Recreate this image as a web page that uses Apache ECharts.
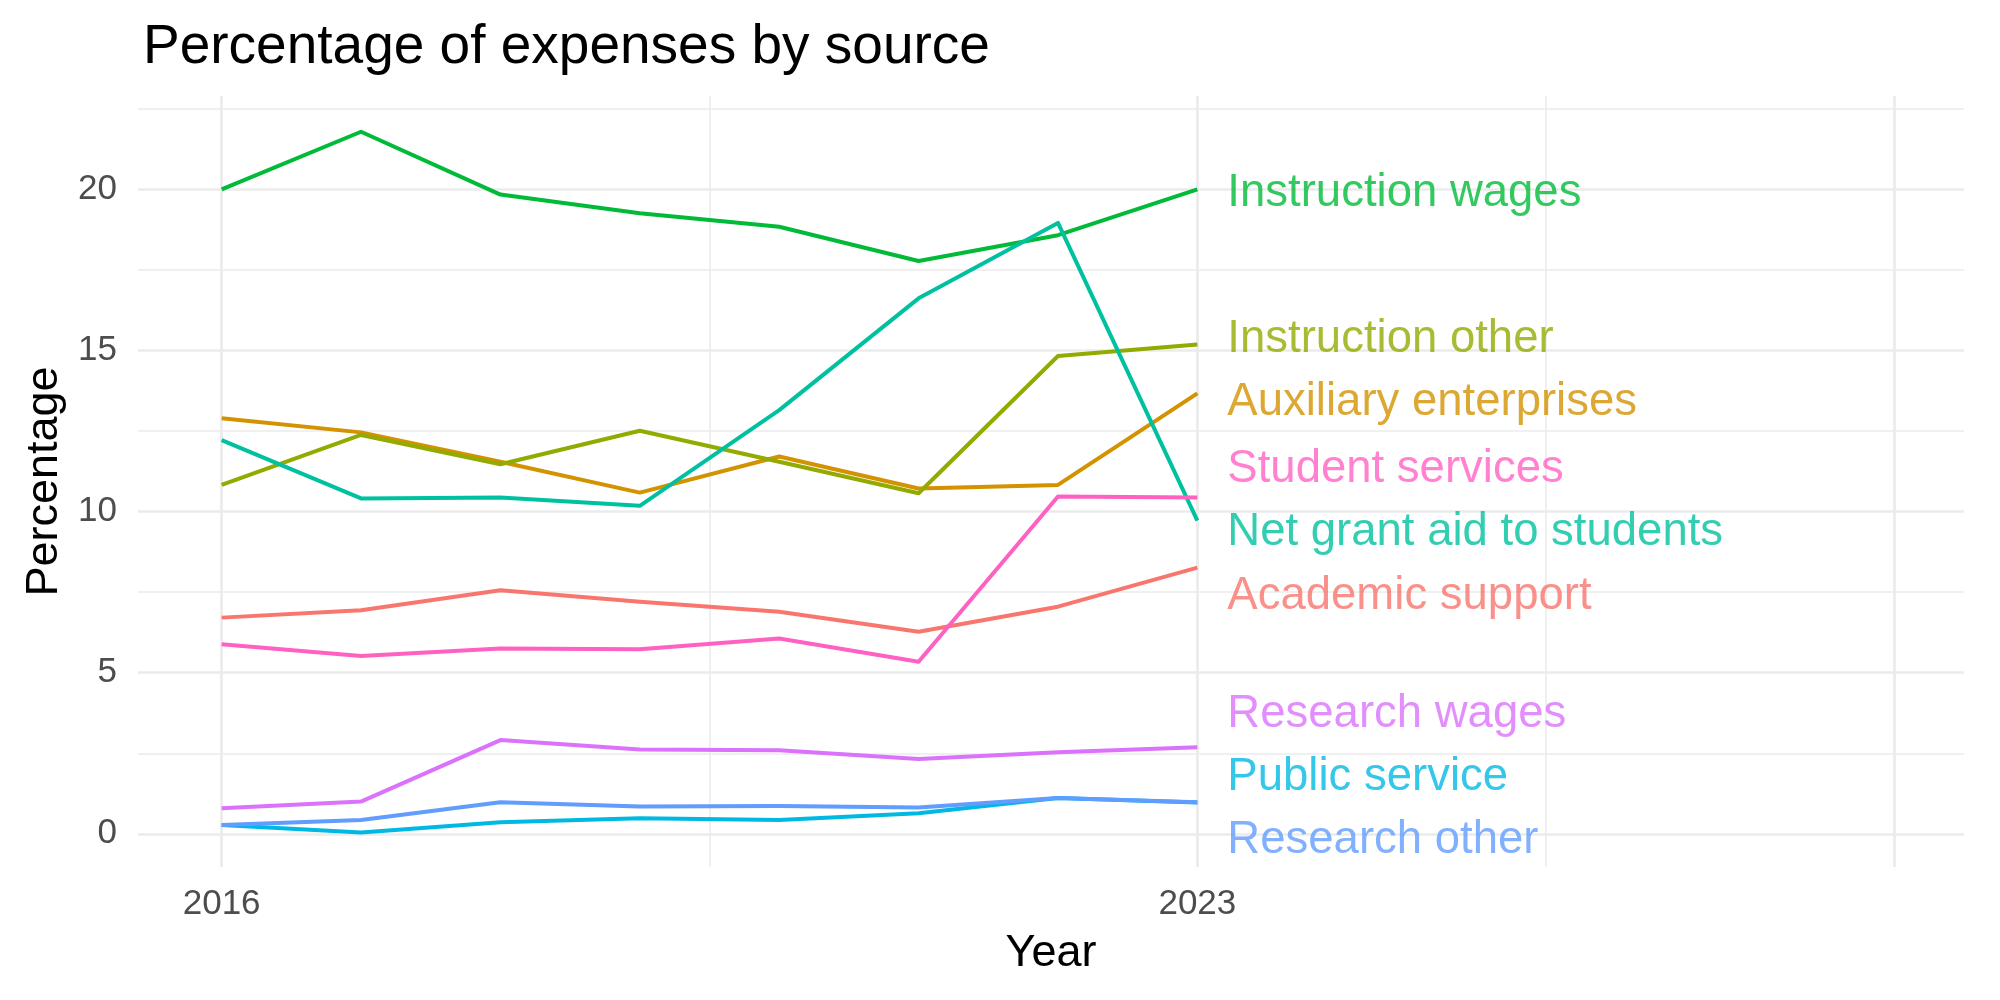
<!DOCTYPE html>
<html>
<head>
<meta charset="utf-8">
<script src="https://cdn.jsdelivr.net/npm/echarts@6/dist/echarts.min.js"></script>
<style>
html, body { margin: 0; padding: 0; background: #fff; }
#main { width: 2000px; height: 1000px; }
</style>
</head>
<body>
<div id="main"></div>
<script>
// years on the x axis
const years = [2016, 2017, 2018, 2019, 2020, 2021, 2022, 2023]

// percentages, one array per source
const academicSupport = [6.71, 6.94, 7.56, 7.20, 6.89, 6.27, 7.05, 8.26]
const auxiliaryEnterprises = [12.90, 12.46, 11.55, 10.59, 11.71, 10.72, 10.83, 13.67]
const instructionOther = [10.83, 12.38, 11.47, 12.51, 11.55, 10.57, 14.83, 15.19]
const instructionWages = [20.00, 21.79, 19.84, 19.26, 18.84, 17.78, 18.58, 20.00]
const netGrantAid = [12.22, 10.41, 10.44, 10.18, 13.15, 16.62, 18.96, 9.72]
const publicService = [0.27, 0.04, 0.36, 0.48, 0.43, 0.64, 1.11, 0.97]
const researchOther = [0.27, 0.43, 0.98, 0.85, 0.86, 0.82, 1.11, 0.98]
const researchWages = [0.79, 1.00, 2.91, 2.62, 2.59, 2.32, 2.53, 2.69]
const studentServices = [5.88, 5.52, 5.75, 5.73, 6.06, 5.34, 10.47, 10.44]

const sourceNames = ['Academic support', 'Auxiliary enterprises', 'Instruction other', 'Instruction wages',
  'Net grant aid to students', 'Public service', 'Research other', 'Research wages', 'Student services']
const sourceValues = [academicSupport, auxiliaryEnterprises, instructionOther, instructionWages,
  netGrantAid, publicService, researchOther, researchWages, studentServices]
// where the repelled end labels sit (y value)
const labelY = [7.38, 13.38, 15.34, 19.88, 9.36, 1.76, -0.2, 3.72, 11.31]

// ticks and gridlines
const xTickLabels = [2016, 2023]
const xMajorGrid = [2016, 2023, 2028]
const xMinorGrid = [2019.5, 2025.5]
const yTickLabels = [0, 5, 10, 15, 20]
const yMinorGrid = [2.5, 7.5, 12.5, 17.5, 22.5]

const colors = ['#F8766D', '#D39200', '#93AA00', '#00BA38', '#00C19F', '#00B9E3', '#619CFF', '#DB72FB', '#FF61C3']
const font = 'Liberation Sans'
const gridColor = '#EBEBEB'

let myChart = echarts.init(document.getElementById('main'), null, { renderer: 'canvas' })

let lineSeries = sourceNames.map((name, i) => {
  return {
    name: name,
    type: 'line',
    data: years.map((y, j) => [y, sourceValues[i][j]]),
    showSymbol: false,
    symbol: 'none',
    lineStyle: { width: 4, color: colors[i], cap: 'butt', join: 'round' },
    itemStyle: { color: colors[i] },
    z: 3
  }
})

// gridlines drawn as mark lines so they can sit at uneven positions
let gridMarks = []
xMajorGrid.forEach(v => gridMarks.push({ xAxis: v, lineStyle: { width: 2.7 } }))
xMinorGrid.forEach(v => gridMarks.push({ xAxis: v, lineStyle: { width: 1.6 } }))
yTickLabels.forEach(v => gridMarks.push({ yAxis: v, lineStyle: { width: 2.7 } }))
yMinorGrid.forEach(v => gridMarks.push({ yAxis: v, lineStyle: { width: 1.6 } }))

let gridSeries = {
  type: 'line',
  data: [],
  silent: true,
  z: 1,
  markLine: {
    z: 0,
    silent: true,
    symbol: 'none',
    animation: false,
    label: { show: false },
    lineStyle: { color: gridColor, type: 'solid' },
    data: gridMarks
  }
}

let labelSeries = {
  type: 'scatter',
  symbolSize: 0,
  silent: true,
  z: 4,
  data: sourceNames.map((name, i) => {
    return {
      value: [2023, labelY[i]],
      name: name,
      label: { color: colors[i] }
    }
  }),
  label: {
    show: true,
    position: 'right',
    distance: 30,
    formatter: p => p.name,
    fontFamily: font,
    fontSize: 45.5,
    textBorderWidth: 0,
    textBorderColor: 'transparent',
    verticalAlign: 'middle'
  }
}

myChart.setOption({
  animation: false,
  title: {
    text: 'Percentage of expenses by source',
    left: 138,
    top: 15,
    textStyle: { fontFamily: font, fontSize: 55, fontWeight: 'normal', color: '#000' }
  },
  grid: { left: 138, right: 36, top: 96, bottom: 133 },
  xAxis: {
    type: 'value',
    min: 2015.4,
    max: 2028.5,
    name: 'Year',
    nameLocation: 'middle',
    nameGap: 64,
    nameTextStyle: { fontFamily: font, fontSize: 45, color: '#000' },
    axisLine: { show: false },
    axisTick: { show: false },
    splitLine: { show: false },
    axisLabel: {
      customValues: xTickLabels,
      formatter: v => String(v),
      margin: 20,
      fontFamily: font,
      fontSize: 35,
      color: '#4D4D4D'
    }
  },
  yAxis: {
    type: 'value',
    min: -1.03,
    max: 22.9,
    name: 'Percentage',
    nameLocation: 'middle',
    nameGap: 70,
    nameTextStyle: { fontFamily: font, fontSize: 45, color: '#000' },
    axisLine: { show: false },
    axisTick: { show: false },
    splitLine: { show: false },
    axisLabel: {
      customValues: yTickLabels,
      formatter: v => String(v),
      margin: 21,
      fontFamily: font,
      fontSize: 35,
      color: '#4D4D4D'
    }
  },
  series: [gridSeries].concat(lineSeries).concat([labelSeries])
})
</script>
</body>
</html>
